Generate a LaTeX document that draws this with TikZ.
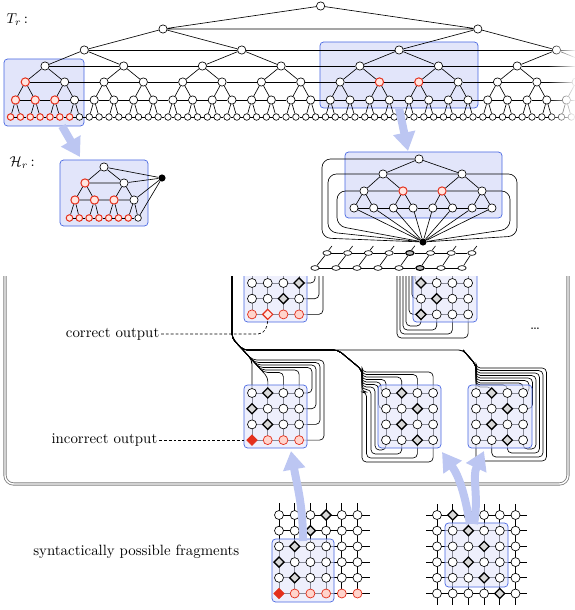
\documentclass[tikz,border=0pt]{standalone}
\usetikzlibrary{shapes.geometric,arrows.meta,fadings}
\definecolor{boxfill}{RGB}{226,229,250}
\definecolor{boxline}{RGB}{72,102,225}
\definecolor{arrowblue}{RGB}{188,198,242}
\definecolor{myred}{RGB}{228,48,28}
\definecolor{lightred}{RGB}{255,212,204}
\tikzset{
  tn/.style={circle,draw,fill=white,inner sep=0pt,minimum size=5.8pt,line width=0.45pt},
  lf/.style={circle,draw,fill=white,inner sep=0pt,minimum size=4.6pt,line width=0.45pt},
  rn/.style={draw=myred,fill=lightred!60,line width=0.7pt},
  bn/.style={circle,fill=black,inner sep=0pt,minimum size=5pt},
  gn/.style={circle,draw,fill=white,inner sep=0pt,minimum size=6.3pt,line width=0.45pt},
  gd/.style={diamond,draw,fill=gray!30,inner sep=0pt,minimum size=7.4pt,line width=0.9pt},
  go/.style={circle,draw=myred,fill=lightred,inner sep=0pt,minimum size=6.3pt,line width=0.5pt},
  gdo/.style={diamond,draw=myred,fill=lightred!50,inner sep=0pt,minimum size=7.4pt,line width=0.8pt},
  gdr/.style={diamond,draw=myred,fill=myred,inner sep=0pt,minimum size=7.4pt,line width=0.6pt},
  en/.style={ellipse,draw,fill=white,inner sep=0pt,minimum width=5.8pt,minimum height=3.3pt,line width=0.45pt},
  ed/.style={en,fill=gray!55,line width=0.8pt},
  bx/.style={draw=boxline,fill=boxfill,rounded corners=2.5pt,line width=0.5pt},
  gbox/.style={draw=boxline,fill=boxfill,fill opacity=0.6,rounded corners=2.5pt,line width=0.5pt},
  bigarrow/.style={draw=arrowblue,line width=5.6pt,-{Triangle[length=13pt,width=15pt]}},
  tedge/.style={line width=0.45pt},
  gline/.style={line width=0.45pt},
  wire/.style={line width=0.45pt,rounded corners=3pt},
  wframe/.style={draw=black!50,double=white,double distance=1pt,line width=0.6pt,rounded corners=6pt},
  lbl/.style={inner sep=1pt,font=\fontsize{10.4}{12}\selectfont},
}
\newcommand\gridpts[5]{%
  \foreach \ii in {1,...,#4}{\foreach \jj in {1,...,#5}{%
    \coordinate (#1-\ii-\jj) at ({#2+15.7*(\jj-1)},{#3+15.7*(\ii-1)});}}}
\newcommand\gridlines[3]{%
  \foreach \ii in {1,...,#2}{\foreach \jj in {1,...,#3}{%
    \pgfmathtruncatemacro\nii{\ii+1}\pgfmathtruncatemacro\njj{\jj+1}%
    \ifnum\jj<#3\relax \draw[gline] (#1-\ii-\jj) -- (#1-\ii-\njj);\fi
    \ifnum\ii<#2\relax \draw[gline] (#1-\ii-\jj) -- (#1-\nii-\jj);\fi}}}
\newcommand\gridnodes[2]{%
  \foreach \rowlist [count=\ii] in {#2}{\foreach \sty [count=\jj] in \rowlist {%
    \node[\sty] (#1n-\ii-\jj) at (#1-\ii-\jj) {};}}}
\begin{document}
\begin{tikzpicture}[x=0.7pt,y=-0.7pt]
\useasboundingbox (0,0) rectangle (575,610);

% ================= T_r =================
\begin{scope}
\clip (0,0) rectangle (575,128);
\path[bx] (4,59) rectangle (84,126);
\path[bx] (320,42) rectangle (478,108);
\node[tn] (R) at (320.6,6) {};
\foreach \k in {0,1} \node[tn] (A\k) at ({163+314.8*\k},29) {};
\foreach \k in {0,...,4} \node[tn] (B\k) at ({84.3+157.4*\k},50) {};
\foreach \k in {0,...,8} \node[tn] (C\k) at ({45+78.7*\k},66) {};
\foreach \k in {0,9,10} \node[tn,rn] (D\k) at ({25.3+39.35*\k},82) {};
\foreach \k in {1,2,3,4,5,6,7,8,11,12,13,14,15} \node[tn] (D\k) at ({25.3+39.35*\k},82) {};
\foreach \k in {0,1,2} \node[tn,rn] (E\k) at ({15.5+19.675*\k},100) {};
\foreach \k in {3,...,31} \node[tn] (E\k) at ({15.5+19.675*\k},100) {};
\foreach \k in {0,...,6} \node[lf,rn] (F\k) at ({10.6+9.8375*\k},117) {};
\foreach \k in {7,...,63} \node[lf] (F\k) at ({10.6+9.8375*\k},117) {};
\draw[tedge] (R) -- (A0) (R) -- (A1) (A0) -- (A1);
\foreach \k in {0,1}{\pgfmathtruncatemacro\a{2*\k}\pgfmathtruncatemacro\b{2*\k+1}
  \draw[tedge] (A\k) -- (B\a) (A\k) -- (B\b);}
\foreach \k in {0,...,3}{\pgfmathtruncatemacro\a{2*\k}\pgfmathtruncatemacro\b{2*\k+1}
  \draw[tedge] (B\k) -- (C\a) (B\k) -- (C\b);}
\foreach \k in {0,...,7}{\pgfmathtruncatemacro\a{2*\k}\pgfmathtruncatemacro\b{2*\k+1}
  \draw[tedge] (C\k) -- (D\a) (C\k) -- (D\b);}
\foreach \k in {0,...,15}{\pgfmathtruncatemacro\a{2*\k}\pgfmathtruncatemacro\b{2*\k+1}
  \draw[tedge] (D\k) -- (E\a) (D\k) -- (E\b);}
\foreach \k in {0,...,31}{\pgfmathtruncatemacro\a{2*\k}\pgfmathtruncatemacro\b{2*\k+1}
  \draw[tedge] (E\k) -- (F\a) (E\k) -- (F\b);}
\foreach \k [evaluate=\k as \n using int(\k+1)] in {0,...,3} \draw[tedge] (B\k) -- (B\n);
\foreach \k [evaluate=\k as \n using int(\k+1)] in {0,...,7} \draw[tedge] (C\k) -- (C\n);
\foreach \k [evaluate=\k as \n using int(\k+1)] in {0,...,14} \draw[tedge] (D\k) -- (D\n);
\foreach \k [evaluate=\k as \n using int(\k+1)] in {0,...,30} \draw[tedge] (E\k) -- (E\n);
\foreach \k [evaluate=\k as \n using int(\k+1)] in {0,...,62} \draw[tedge] (F\k) -- (F\n);
\fill[white,path fading=west] (548,0) rectangle (576,128);
\end{scope}
\node[lbl,anchor=west] (tlab) at (5,20) {$T_r$\,:};

% ================= H_r left =================
\path[bx] (60,160) rectangle (148,226);
\node[tn] (h0) at (104,167) {};
\node[tn,rn] (h1) at (85,183) {};
\node[tn] (h2) at (124,183) {};
\node[tn,rn] (h3) at (75,200) {};
\node[tn,rn] (h4) at (94.5,200) {};
\node[tn,rn] (h5) at (114,200) {};
\node[tn] (h6) at (134,200) {};
\foreach \k in {0,...,6} \node[lf,rn] (hl\k) at ({69.5+9.8*\k},218) {};
\node[lf] (hl7) at (138.1,218) {};
\node[bn] (hb) at (162,178) {};
\draw[tedge] (h0)--(h1) (h0)--(h2) (h1)--(h3) (h1)--(h4) (h2)--(h5) (h2)--(h6)
  (h1)--(h2) (h3)--(h4) (h4)--(h5) (h5)--(h6)
  (h3)--(hl0) (h3)--(hl1) (h4)--(hl2) (h4)--(hl3) (h5)--(hl4) (h5)--(hl5) (h6)--(hl6) (h6)--(hl7)
  (hb)--(h0) (hb)--(h2) (hb)--(h6) (hb)--(hl7);
\foreach \k [evaluate=\k as \n using int(\k+1)] in {0,...,6} \draw[tedge] (hl\k) -- (hl\n);
\node[lbl,anchor=west] (hlab) at (8,163) {$\mathcal{H}_r$\,:};

% ================= H_r right =================
\path[bx] (345,152) rectangle (502,218);
\node[tn] (q0) at (419,159) {};
\node[tn] (q1) at (383,174) {};
\node[tn] (q2) at (462,174) {};
\node[tn] (q3) at (364,191) {};
\node[tn,rn] (q4) at (403,191) {};
\node[tn,rn] (q5) at (442,191) {};
\node[tn] (q6) at (482,191) {};
\foreach \k in {0,...,7} \node[tn] (ql\k) at ({354+19.7*\k},208) {};
\node[bn] (qb) at (423,242) {};
\draw[tedge] (q0)--(q1) (q0)--(q2) (q1)--(q3) (q1)--(q4) (q2)--(q5) (q2)--(q6)
  (q1)--(q2) (q3)--(q4) (q4)--(q5) (q5)--(q6)
  (q3)--(ql0) (q3)--(ql1) (q4)--(ql2) (q4)--(ql3) (q5)--(ql4) (q5)--(ql5) (q6)--(ql6) (q6)--(ql7);
\foreach \k [evaluate=\k as \n using int(\k+1)] in {0,...,6} \draw[tedge] (ql\k) -- (ql\n);
\foreach \k in {0,...,7} \draw[tedge] (qb) -- (ql\k);
\draw[tedge,rounded corners=6pt] (q0) -- (322,159) -- (322,238) -- (qb);
\draw[tedge,rounded corners=6pt] (q1) -- (328,174) -- (328,232) -- (qb);
\draw[tedge,rounded corners=6pt] (q3) -- (337,191) -- (337,226) -- (qb);
\draw[tedge,rounded corners=6pt] (q2) -- (517,174) -- (517,236) -- (qb);
\draw[tedge,rounded corners=6pt] (q6) -- (510,191) -- (510,229) -- (qb);

% ================= ladder =================
\foreach \k in {0,1,2,3,5,6,7} \node[en] (lu\k) at ({327+20.7*\k},253) {};
\node[ed] (lu4) at ({327+20.7*4},253) {};
\foreach \k in {0,1,2,3,4,6,7} \node[en] (ll\k) at ({315+21*\k},268) {};
\node[ed] (ll5) at ({315+21*5},268) {};
\foreach \k [evaluate=\k as \n using int(\k+1)] in {0,...,6}
  \draw[tedge] (lu\k) -- (lu\n) (ll\k) -- (ll\n);
\foreach \k in {0,...,7} \draw[tedge] (lu\k) -- (ll\k) (lu\k.60) -- ++(3.5,-4.5);

% ================= big arrows (top) =================
\draw[bigarrow] (62,126) -- (80,157);
\draw[bigarrow] (399,108) -- (408,151);

% ================= frame =================
\draw[wframe] (5,276) -- (5,484) -- (568,484) -- (568,276);

\begin{scope}
\clip (5,276) rectangle (568,484);
\coordinate (tk) at (232,268);
% ---- fragment A
\gridpts{fa}{252}{283}{3}{4}
\gridlines{fa}{3}{4}
\foreach \jj in {1,...,4} \draw[gline] (fa-1-\jj) -- ++(0,-14);
\draw[wire] (fa-1-4) -- (315,283) -- (315,268);
\draw[wire] (fa-2-4) -- (319,298.7) -- (319,268);
\draw[wire] (fa-3-4) -- (323,314.4) -- (323,268);
\path[gbox] (244,262) rectangle (307,322);
\gridnodes{fa}{{gn,gn,gn,gd},{gn,gn,gd,gn},{go,gdo,go,go}}
% ---- fragment D
\gridpts{fd}{421}{283}{3}{4}
\gridlines{fd}{3}{4}
\foreach \jj in {1,...,4} \draw[gline] (fd-1-\jj) -- ++(0,-14);
\draw[wire] (fd-3-4) -- (468.1,338) -- (397,338) -- (397,268);
\draw[wire] (fd-3-3) -- (452.4,334) -- (400,334) -- (400,268);
\draw[wire] (fd-3-2) -- (436.7,330) -- (403,330) -- (403,268);
\draw[wire] (fd-3-1) -- (421,326) -- (406,326) -- (406,268);
\draw[wire] (fd-3-1) -- (409,314.4) -- (409,268);
\draw[wire] (fd-2-1) -- (412,298.7) -- (412,268);
\draw[wire] (fd-1-1) -- (415,283) -- (415,268);
\path[gbox] (413,262) rectangle (477,322);
\gridnodes{fd}{{gd,gn,gn,gn},{gn,gd,gn,gn},{gd,gn,gn,gn}}
% ---- fragment B
\gridpts{fb}{252}{393}{4}{4}
\gridlines{fb}{4}{4}
\draw[wire,line width=0.6pt] (tk) -- (232,338) -- (252,360) -- (fb-1-1);
\draw[wire] (tk) -- (232,338) -- (268,377.6) -- (fb-1-2);
\draw[wire] (tk) -- (232,338) -- (263.5,372.5) -- (283.4,372.5) -- (fb-1-3);
\draw[wire] (tk) -- (232,338) -- (261.3,370) -- (299.1,370) -- (fb-1-4);
\draw[wire] (tk) -- (232,338) -- (259,367.5) -- (312,367.5) -- (312,393) -- (fb-1-4);
\draw[wire] (tk) -- (232,338) -- (256.8,365) -- (316,365) -- (316,408.7) -- (fb-2-4);
\draw[wire] (tk) -- (232,338) -- (254.5,362.5) -- (320,362.5) -- (320,424.4) -- (fb-3-4);
\draw[wire] (tk) -- (232,338) -- (252.5,360) -- (324,360) -- (324,440.1) -- (fb-4-4);
\path[gbox] (244,385) rectangle (307,448);
\gridnodes{fb}{{gn,gd,gn,gn},{gd,gn,gn,gn},{gn,gd,gn,gn},{gdr,go,go,go}}
% ---- fragment C
\gridpts{fc}{386}{393}{4}{4}
\gridlines{fc}{4}{4}
\foreach \yp/\jj in {372/4,374.5/3,377/2,379.5/1}
  \draw[wire] (tk) -- (232,338) -- (243,350) -- (338,350) -- (362,370) -- (362,\yp) -- (fc-1-\jj |- 0,\yp) -- (fc-1-\jj);
\foreach \yp/\xx/\ii in {382/381/1,384.5/378.5/2}
  \draw[wire] (tk) -- (232,338) -- (243,350) -- (338,350) -- (362,370) -- (362,\yp) -- (\xx,\yp) -- (\xx,0 |- fc-\ii-1) -- (fc-\ii-1);
\foreach \yp/\xx/\yb/\jj in {387/375/450/1,389.5/371/454/2,392/366.5/458/3,395/362/462/4}
  \draw[wire] (tk) -- (232,338) -- (243,350) -- (338,350) -- (362,370) -- (362,\yp) -- (\xx,\yp) -- (\xx,\yb) -- (fc-4-\jj |- 0,\yb) -- (fc-4-\jj);
\path[gbox] (378,385) rectangle (441,448);
\gridnodes{fc}{{gn,gd,gn,gn},{gn,gn,gd,gn},{gn,gd,gn,gn},{gn,gn,gd,gn}}
% ---- fragment E
\gridpts{fe}{476}{393}{4}{4}
\gridlines{fe}{4}{4}
\draw[wire,line width=0.6pt] (tk) -- (232,338) -- (243,350) -- (463,350) -- (476,365) -- (fe-1-1);
\foreach \yp/\xx/\yb/\jj in {368/546.5/461/1,370.5/543/457/2,373/539.5/453/3,375.5/536/449/4}
  \draw[wire] (463,350) -- (476,365) -- (476,\yp) -- (\xx,\yp) -- (\xx,\yb) -- (fe-4-\jj |- 0,\yb) -- (fe-4-\jj);
\foreach \yp/\xx/\ii in {378/532.5/2,380.5/529/1}
  \draw[wire] (463,350) -- (476,365) -- (476,\yp) -- (\xx,\yp) -- (\xx,0 |- fe-\ii-4) -- (fe-\ii-4);
\foreach \yp/\jj in {383/4,385/3,387/2}
  \draw[wire] (463,350) -- (476,365) -- (476,\yp) -- (fe-1-\jj |- 0,\yp) -- (fe-1-\jj);
\path[gbox] (468,385) rectangle (532,448);
\gridnodes{fe}{{gn,gd,gn,gn},{gn,gn,gd,gn},{gn,gd,gn,gn},{gn,gn,gd,gn}}
\node[lbl] (dots) at (535,329) {\ldots};
\end{scope}

% ================= fragment F =================
\gridpts{ff}{279}{515}{6}{6}
\gridlines{ff}{6}{6}
\foreach \jj in {1,...,6} \draw[gline] (ff-1-\jj) -- ++(0,-12);
\foreach \ii in {1,...,6} \draw[gline] (ff-\ii-6) -- ++(12,0);
\path[gbox] (272,539) rectangle (334,602);
\gridnodes{ff}{{gn,gn,gn,gd,gn,gn},{gn,gn,gd,gn,gn,gn},{gn,gd,gn,gn,gn,gn},{gd,gn,gn,gn,gn,gn},{gn,gd,gn,gn,gn,gn},{gdr,go,go,go,go,go}}

% ================= fragment G =================
\gridpts{fg}{437}{515}{6}{6}
\gridlines{fg}{6}{6}
\foreach \jj in {1,...,6} \draw[gline] (fg-1-\jj) -- ++(0,-11) (fg-6-\jj) -- ++(0,11);
\foreach \ii in {1,...,6} \draw[gline] (fg-\ii-6) -- ++(11,0) (fg-\ii-1) -- ++(-11,0);
\path[gbox] (445,523) rectangle (508,587);
\gridnodes{fg}{{gn,gd,gn,gn,gn,gn},{gn,gn,gd,gn,gn,gn},{gn,gn,gn,gd,gn,gn},{gn,gn,gd,gn,gn,gn},{gn,gn,gn,gd,gn,gn},{gn,gn,gn,gn,gd,gn}}

% ================= labels =================
\node[lbl,anchor=east] (cout) at (161,334) {correct output};
\draw[dashed,dash pattern=on 2pt off 1.4pt,line width=0.45pt] (cout.east) -- (258,334) to[out=0,in=-90] (fan-3-2);
\node[lbl,anchor=east] (iout) at (159,440.1) {incorrect output};
\draw[dashed,dash pattern=on 2pt off 1.4pt,line width=0.45pt] (iout.east) -- (fbn-4-1);
\node[lbl,anchor=east] (slab) at (241,552) {syntactically possible fragments};

% ================= big arrows (bottom) =================
\draw[bigarrow] (303,541) to[out=90,in=-80] (291,451);
\draw[bigarrow] (470,524) to[out=100,in=-55] (442,452);
\draw[bigarrow] (474,524) to[out=80,in=-115] (484,451);
\end{tikzpicture}
\end{document}
